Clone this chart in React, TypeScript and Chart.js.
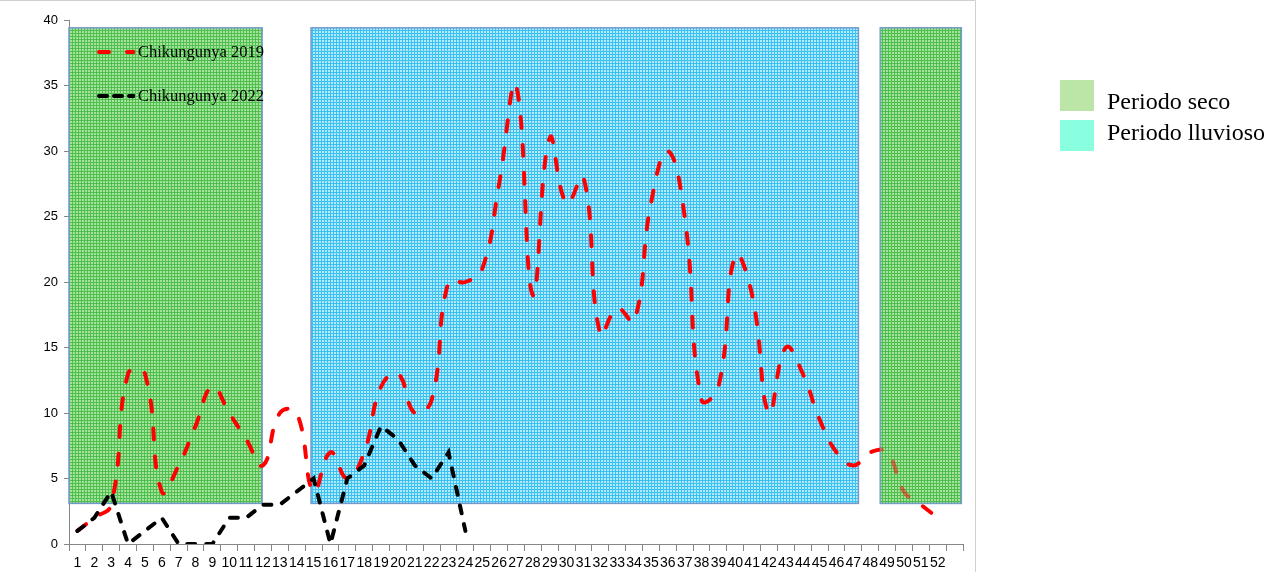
import React, { useEffect, useRef } from 'react';
import { Chart, registerables } from 'chart.js';

Chart.register(...registerables);

// ---- data ----
const weekLabels = [
  '1', '2', '3', '4', '5', '6', '7', '8', '9', '10', '11', '12', '13',
  '14', '15', '16', '17', '18', '19', '20', '21', '22', '23', '24', '25', '26',
  '27', '28', '29', '30', '31', '32', '33', '34', '35', '36', '37', '38', '39',
  '40', '41', '42', '43', '44', '45', '46', '47', '48', '49', '50', '51', '52', '',
];

const chik2019 = [
  1, 2, 3, 13, 13, 4, 6, 9, 12, 10, 8, 6, 10, 10, 4, 7, 5, 7, 12, 13, 10, 11, 20, 20, 21, 27.5,
  35, 19, 31, 26, 28, 16, 18, 17, 26, 30, 25, 11, 12, 22, 19, 10, 15, 13, 9.5, 7, 6, 7, 7, 4, 3, 2,
];

const chik2022 = [1, 2, 4, 0, 1, 2, 0, 0, 0, 2, 2, 3, 3, 4, 5, 0, 5, 6, 9, 8, 6, 5, 7, 1];

const seriesNames = ['Chikungunya 2019', 'Chikungunya 2022'];

const periodNames = ['Periodo seco', 'Periodo lluvioso', 'Periodo seco'];
const periodStartWeek = [0.5, 14.85, 48.6];
const periodEndWeek = [11.95, 47.3, 53.4];
const periodLow = 3.1;
const periodHigh = 39.4;

const periodLegendLabels = ['Periodo seco', 'Periodo lluvioso'];

// ---- styles ----
const RED = '#ff0000';
const BLACK = '#000000';

function makePattern(bg: string, line: string): CanvasPattern | string {
  const c = document.createElement('canvas');
  c.width = 3;
  c.height = 3;
  const g = c.getContext('2d');
  if (!g) return bg;
  g.fillStyle = bg;
  g.fillRect(0, 0, 3, 3);
  g.fillStyle = line;
  g.fillRect(0, 0, 3, 1);
  g.fillRect(0, 0, 1, 3);
  const p = g.createPattern(c, 'repeat');
  return p || bg;
}

export default function App() {
  const ref = useRef<HTMLCanvasElement | null>(null);

  useEffect(() => {
    if (!ref.current) return;
    const greenPat = makePattern('#a6e29c', '#4fbf4f');
    const bluePat = makePattern('#b2ebfb', '#3cc0f1');
    const patterns = [greenPat, bluePat, greenPat];

    const drawBox = (chart: any, i: number) => {
      const { ctx, scales } = chart;
      const xs = scales.x;
      const ys = scales.y;
      const x0 = xs.getPixelForValue(periodStartWeek[i] - 1);
      const x1 = xs.getPixelForValue(periodEndWeek[i] - 1);
      const y0 = ys.getPixelForValue(periodHigh);
      const y1 = ys.getPixelForValue(periodLow);
      ctx.fillStyle = patterns[i];
      ctx.fillRect(x0, y0, x1 - x0, y1 - y0);
      ctx.strokeStyle = '#7399cc';
      ctx.lineWidth = 1.5;
      ctx.strokeRect(x0, y0, x1 - x0, y1 - y0);
    };

    const periodPlugin = {
      id: 'periods',
      beforeDraw(chart: any) {
        const { ctx } = chart;
        ctx.save();
        ctx.strokeStyle = '#d0d0d0';
        ctx.lineWidth = 1;
        ctx.beginPath();
        ctx.moveTo(0, 0.5);
        ctx.lineTo(975.5, 0.5);
        ctx.lineTo(975.5, 572);
        ctx.stroke();
        ctx.restore();
      },
      beforeDatasetsDraw(chart: any) {
        const { ctx } = chart;
        ctx.save();
        for (let i = 0; i < periodNames.length; i++) drawBox(chart, i);
        ctx.restore();
      },
      afterDatasetsDraw(chart: any) {
        const { ctx } = chart;
        ctx.save();
        ctx.globalAlpha = 0.5;
        drawBox(chart, periodNames.length - 1);
        ctx.restore();
      },
      afterDraw(chart: any) {
        const { ctx } = chart;
        ctx.save();
        // series legend inside plot
        const rows = [
          { color: RED, dash: [10, 18], y: 52 },
          { color: BLACK, dash: [8, 7], y: 96 },
        ];
        rows.forEach((r, i) => {
          ctx.strokeStyle = r.color;
          ctx.lineWidth = 4;
          ctx.lineCap = 'round';
          ctx.setLineDash(r.dash);
          ctx.beginPath();
          ctx.moveTo(99, r.y);
          ctx.lineTo(133, r.y);
          ctx.stroke();
          ctx.setLineDash([]);
          ctx.fillStyle = r.color;
          ctx.beginPath();
          ctx.arc(133, r.y, 2.2, 0, Math.PI * 2);
          ctx.fill();
          ctx.fillStyle = '#000';
          ctx.font = '16.5px "Liberation Serif"';
          ctx.textBaseline = 'middle';
          ctx.textAlign = 'left';
          ctx.fillText(seriesNames[i], 138, r.y + 1);
        });
        // period legend on the right
        const sq = ['#bce6a8', '#8affdf'];
        const sqY = [80, 120];
        periodLegendLabels.forEach((t, i) => {
          ctx.fillStyle = sq[i];
          ctx.fillRect(1060, sqY[i], 34, 31);
          ctx.fillStyle = '#000';
          ctx.font = '24px "Liberation Serif"';
          ctx.textBaseline = 'alphabetic';
          ctx.textAlign = 'left';
          ctx.fillText(t, 1107, sqY[i] + 29 - i * 9);
        });
        ctx.restore();
      },
    };

    const chart = new Chart(ref.current, {
      type: 'line',
      data: {
        labels: weekLabels,
        datasets: [
          {
            label: seriesNames[0],
            data: chik2019,
            borderColor: RED,
            backgroundColor: RED,
            borderWidth: 4,
            borderDash: [11, 17],
            borderCapStyle: 'round',
            pointRadius: 0,
            tension: 0.45,
            fill: false,
            order: 2,
          },
          {
            label: seriesNames[1],
            data: chik2022,
            borderColor: BLACK,
            backgroundColor: BLACK,
            borderWidth: 4,
            borderDash: [8, 11],
            borderCapStyle: 'round',
            pointRadius: 0,
            tension: 0,
            fill: false,
            order: 1,
          },
        ],
      },
      options: {
        responsive: false,
        animation: false,
        layout: { padding: { left: 8, top: 20, right: 303, bottom: 0 } },
        plugins: {
          legend: { display: false },
          tooltip: { enabled: false },
        },
        scales: {
          x: {
            type: 'category',
            offset: true,
            grid: {
              offset: true,
              drawOnChartArea: false,
              drawTicks: true,
              tickLength: 7,
              color: '#868686',
            },
            border: { color: '#868686' },
            ticks: {
              autoSkip: false,
              maxRotation: 0,
              minRotation: 0,
              padding: 4,
              color: '#000',
              font: { family: '"Liberation Sans"', size: 14 },
            },
            afterFit: (s: any) => {
              s.height = 28;
            },
          },
          y: {
            min: 0,
            max: 40,
            ticks: {
              stepSize: 5,
              padding: 6,
              color: '#000',
              font: { family: '"Liberation Sans"', size: 13 },
            },
            grid: {
              drawOnChartArea: false,
              drawTicks: true,
              tickLength: 5,
              color: '#868686',
            },
            border: { color: '#868686' },
            afterFit: (s: any) => {
              s.width = 61;
            },
          },
        },
      } as any,
      plugins: [periodPlugin],
    });
    return () => chart.destroy();
  }, []);

  return (
    <div style={{ position: 'absolute', left: 0, top: 0, width: 1266, height: 572, background: '#fff' }}>
      <canvas ref={ref} width={1266} height={572} style={{ display: 'block' }} />
    </div>
  );
}
